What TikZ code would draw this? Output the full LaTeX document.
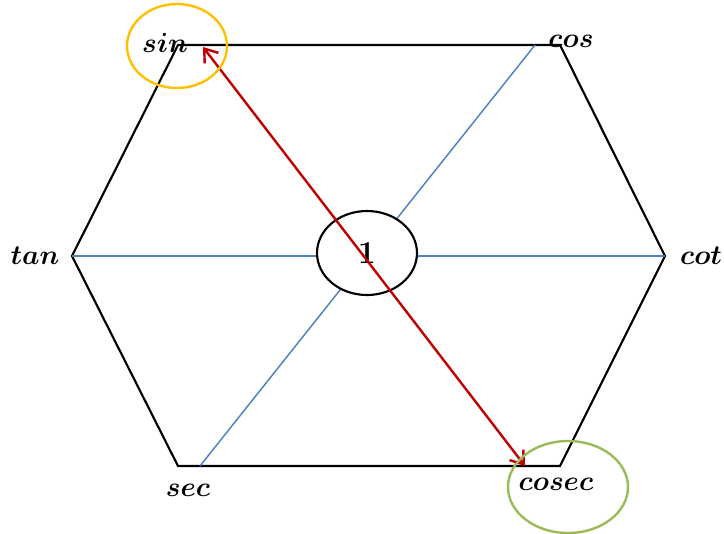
\documentclass[tikz,border=0pt]{standalone}
\usepackage{amsmath,amssymb}
\usepackage{xcolor}
\usepackage{tikz}
\usetikzlibrary{arrows.meta,positioning,shapes.geometric}
\definecolor{HexBlue}{RGB}{79,129,189}
\definecolor{HexRed}{RGB}{192,0,0}
\definecolor{HexGold}{RGB}{255,192,0}
\definecolor{HexGreen}{RGB}{155,187,89}

\begin{document}
\begin{tikzpicture}[
x=0.75pt,y=-0.75pt,
fname/.style={
inner sep=0pt,
font=\fontsize{22}{26}\selectfont\boldmath
},
side/.style={
draw=black,
line width=1.6pt
},
spoke/.style={
draw=HexBlue,
line width=1.1pt
},
ring/.style={
draw,
ellipse,
line width=1.6pt,
fill=white,
inner sep=0pt
}
]
\useasboundingbox (0,0) rectangle (724,533);

\coordinate (vsin) at (178,45);
\coordinate (vcos) at (560,45);
\coordinate (vcot) at (665,256);
\coordinate (vcosec) at (560,466);
\coordinate (vsec) at (178,466);
\coordinate (vtan) at (72,256);

\coordinate (bcos) at (535,45);
\coordinate (bsec) at (200,466);
\coordinate (rsin) at (203,47);
\coordinate (rcosec) at (525,466);

\draw[side] (vsin) -- (vcos) -- (vcot) -- (vcosec) -- (vsec) -- (vtan) -- cycle;

\draw[spoke] (vtan) -- (vcot);
\draw[spoke] (bcos) -- (bsec);

\node[ring,minimum width=75pt,minimum height=63pt] (one) at (367,253) {};
\node[font=\fontsize{24}{28}\selectfont\bfseries] at (one) {1};

\node[fname] (sin) at (165,43) {$sin$};
\node[fname] (cos) at (571,41) {$cos$};
\node[fname] (tan) at (35,256) {$tan$};
\node[fname] (cot) at (701,256) {$cot$};
\node[fname] (sec) at (188,490) {$sec$};
\node[fname] (cosec) at (556,484) {$cosec$};

\draw[HexRed,line width=1.8pt,
{Straight Barb[length=9pt,width=13pt]}-{Straight Barb[length=9pt,width=13pt]}]
(rsin) -- (rcosec);

\draw[HexGold,line width=1.8pt] (177,46) ellipse (50 and 42);
\draw[HexGreen,line width=1.8pt] (568,487) ellipse (60 and 46);

\end{tikzpicture}
\end{document}
